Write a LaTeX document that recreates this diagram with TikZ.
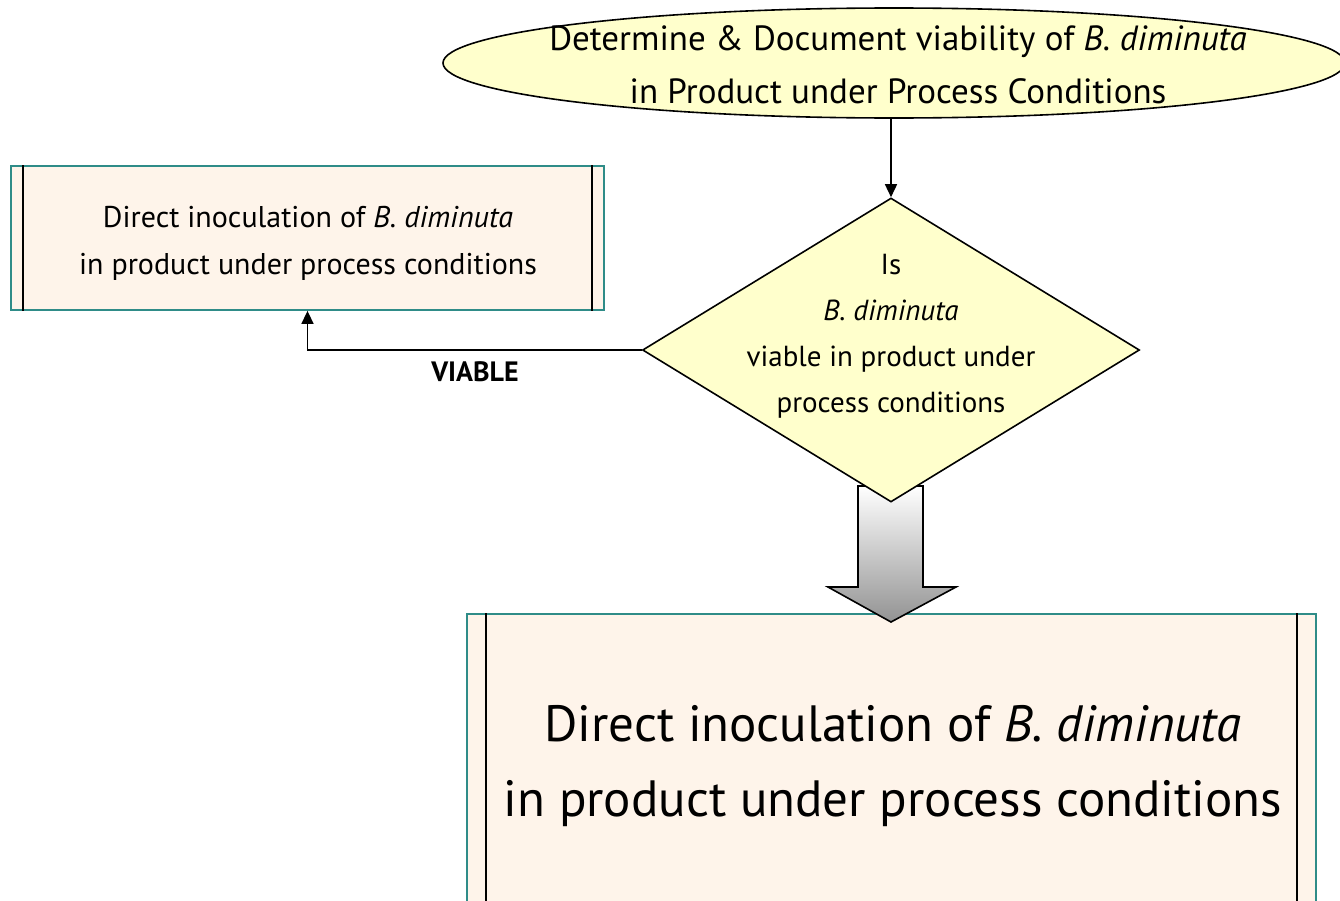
\documentclass[tikz,border=0pt]{standalone}
\usepackage{fontspec}
\setmainfont{PT Sans}
\usetikzlibrary{shapes.geometric,arrows.meta,calc}

\definecolor{palewell}{HTML}{FFFFCC}
\definecolor{boxfill}{HTML}{FEF4EA}
\definecolor{tealline}{HTML}{2F8C88}

\tikzset{
  flow/.style={-{Triangle[length=13bp,width=12bp]}, line width=1.6bp, black},
  startshape/.style={ellipse, draw=black, line width=1.6bp, fill=palewell,
    minimum width=902bp, minimum height=110bp, inner sep=0pt},
  decision/.style={diamond, draw=black, line width=1.6bp, fill=palewell,
    minimum width=497bp, minimum height=304bp, inner sep=0pt},
  label/.style={align=center, inner sep=0pt},
  procbox/.style={rectangle, draw=tealline, line width=1.8bp, fill=boxfill,
    inner sep=0pt},
  sidebar/.style={line width=1.6bp, black},
}

\begin{document}
\begin{tikzpicture}[x=1bp, y=-1bp]
  \useasboundingbox (0,0) rectangle (1340,900);
  \clip (0,0) rectangle (1340,900);

  % start terminal
  \node[startshape] (start) at (894,63) {};
  \node[label, font=\fontsize{35bp}{53bp}\selectfont] (starttext) at (898,65)
    {Determine \& Document viability of \textit{B. diminuta}\\in Product under Process Conditions};

  % left process box
  \node[procbox, minimum width=593bp, minimum height=144bp] (lbox) at (307.5,238) {};
  \draw[sidebar] ($(lbox.north west)+(13,0)$) -- ($(lbox.south west)+(13,0)$);
  \draw[sidebar] ($(lbox.north east)+(-13,0)$) -- ($(lbox.south east)+(-13,0)$);
  \node[label, font=\fontsize{30bp}{47bp}\selectfont] (ltext) at (308,243)
    {Direct inoculation of \textit{B. diminuta}\\in product under process conditions};

  % bottom process box
  \node[procbox, minimum width=849bp, minimum height=312bp] (bbox) at (891.5,770) {};
  \draw[sidebar] ($(bbox.north west)+(20,0)$) -- ($(bbox.south west)+(20,0)$);
  \draw[sidebar] ($(bbox.north east)+(-20,0)$) -- ($(bbox.south east)+(-20,0)$);
  \node[label, font=\fontsize{51bp}{75bp}\selectfont] (btext) at (893,766)
    {Direct inoculation of \textit{B. diminuta}\\in product under process conditions};

  % block arrow from the decision down to the bottom box
  \path[draw=black, line width=1.6bp, top color=white, bottom color=gray!85, line join=miter]
    (858,486) -- (923,486) -- (923,587) -- (956,587) -- (891,622)
    -- (828,587) -- (858,587) -- cycle;

  % decision
  \node[decision] (dia) at (891,350) {};
  \node[label, font=\fontsize{29bp}{46bp}\selectfont] (diatext) at (891,336)
    {Is\\\textit{B. diminuta}\\viable in product under\\process conditions};

  % connectors
  \draw[flow] (dia.north |- start.south) -- (dia.north);
  \draw[flow] (dia.west) -| (lbox.south);
  \node[font=\bfseries\fontsize{28bp}{30bp}\selectfont, inner sep=0pt] (viable) at (475,372) {VIABLE};
\end{tikzpicture}
\end{document}
